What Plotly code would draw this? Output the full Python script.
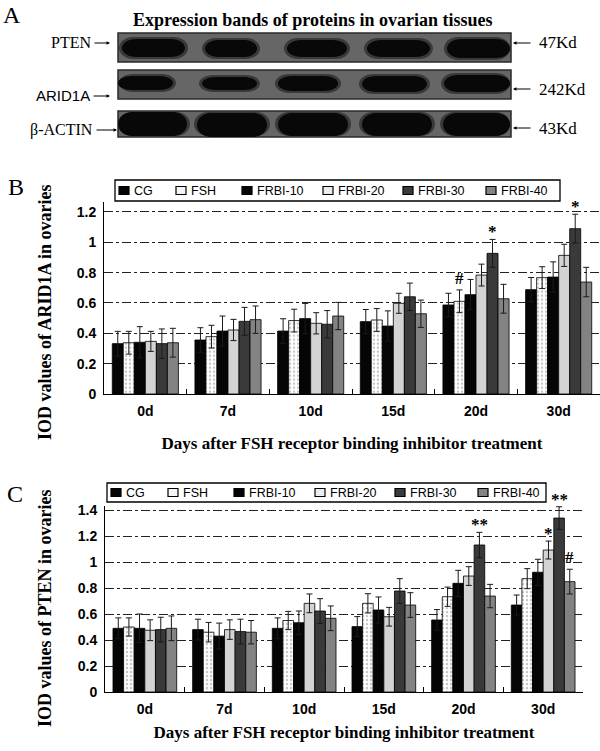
import plotly.graph_objects as go

W, H = 600, 751

# ---------------- data ----------------
days = ["0d", "7d", "10d", "15d", "20d", "30d"]
groups = ["CG", "FSH", "FRBI-10", "FRBI-20", "FRBI-30", "FRBI-40"]

# Panel B: IOD values of ARID1A
arid1a_cg = [0.332, 0.356, 0.415, 0.477, 0.587, 0.688]
arid1a_fsh = [0.338, 0.378, 0.484, 0.488, 0.611, 0.767]
arid1a_frbi10 = [0.341, 0.415, 0.497, 0.448, 0.655, 0.771]
arid1a_frbi20 = [0.347, 0.422, 0.466, 0.598, 0.784, 0.914]
arid1a_frbi30 = [0.332, 0.479, 0.460, 0.641, 0.927, 1.090]
arid1a_frbi40 = [0.338, 0.490, 0.514, 0.529, 0.628, 0.738]

arid1a_cg_err = [0.081, 0.081, 0.081, 0.080, 0.077, 0.080]
arid1a_fsh_err = [0.075, 0.075, 0.075, 0.075, 0.075, 0.072]
arid1a_frbi10_err = [0.103, 0.099, 0.100, 0.100, 0.100, 0.100]
arid1a_frbi20_err = [0.066, 0.070, 0.070, 0.066, 0.072, 0.073]
arid1a_frbi30_err = [0.097, 0.092, 0.090, 0.090, 0.092, 0.095]
arid1a_frbi40_err = [0.095, 0.090, 0.090, 0.090, 0.095, 0.097]

# Panel C: IOD values of PTEN
pten_cg = [0.490, 0.480, 0.490, 0.503, 0.554, 0.669]
pten_fsh = [0.500, 0.460, 0.550, 0.682, 0.733, 0.872]
pten_frbi10 = [0.490, 0.430, 0.533, 0.631, 0.836, 0.921]
pten_frbi20 = [0.475, 0.480, 0.682, 0.579, 0.892, 1.092]
pten_frbi30 = [0.480, 0.465, 0.623, 0.777, 1.131, 1.338]
pten_frbi40 = [0.490, 0.460, 0.567, 0.669, 0.738, 0.849]

pten_cg_err = [0.080, 0.080, 0.080, 0.077, 0.080, 0.077]
pten_fsh_err = [0.070, 0.075, 0.070, 0.074, 0.074, 0.077]
pten_frbi10_err = [0.110, 0.100, 0.090, 0.100, 0.100, 0.100]
pten_frbi20_err = [0.080, 0.075, 0.072, 0.072, 0.072, 0.069]
pten_frbi30_err = [0.095, 0.095, 0.095, 0.095, 0.097, 0.087]
pten_frbi40_err = [0.095, 0.090, 0.095, 0.095, 0.090, 0.095]

# significance marks: (day, group, mark)
arid1a_marks = [("20d", "FSH", "#"), ("20d", "FRBI-30", "*"), ("30d", "FRBI-30", "*")]
pten_marks = [("20d", "FRBI-30", "**"), ("30d", "FRBI-20", "*"),
              ("30d", "FRBI-30", "**"), ("30d", "FRBI-40", "#")]

# western blot panel: lane labels and band sizes
blot_proteins = ["PTEN", "ARID1A", "β-ACTIN"]
blot_sizes = ["47Kd", "242Kd", "43Kd"]

arid1a_vals = [arid1a_cg, arid1a_fsh, arid1a_frbi10, arid1a_frbi20, arid1a_frbi30, arid1a_frbi40]
arid1a_errs = [arid1a_cg_err, arid1a_fsh_err, arid1a_frbi10_err, arid1a_frbi20_err,
               arid1a_frbi30_err, arid1a_frbi40_err]
pten_vals = [pten_cg, pten_fsh, pten_frbi10, pten_frbi20, pten_frbi30, pten_frbi40]
pten_errs = [pten_cg_err, pten_fsh_err, pten_frbi10_err, pten_frbi20_err,
             pten_frbi30_err, pten_frbi40_err]

# ---------------- styles ----------------
SERIF = "Liberation Serif, Times New Roman, serif"
SANS = "Liberation Sans, Arial, sans-serif"

fills = {
    "CG": dict(color="#050505"),
    "FSH": dict(color="white", pattern=dict(shape=".", fgcolor="#8c8c8c", bgcolor="white",
                                            size=4, solidity=0.3)),
    "FRBI-10": dict(color="#050505"),
    "FRBI-20": dict(color="#d3d3d3"),
    "FRBI-30": dict(color="#3a3a3a"),
    "FRBI-40": dict(color="#838383"),
}
swatch = {"CG": "#050505", "FSH": "#f4f4f4", "FRBI-10": "#050505",
          "FRBI-20": "#ececec", "FRBI-30": "#3a3a3a", "FRBI-40": "#838383"}

BARGAP = 0.2
B_TOP, C_TOP = 1.268, 1.43     # y-axis range maxima
B_ZERO, C_ZERO = 394, 692      # pixel rows of y = 0
B_SCALE, C_SCALE = 151.7, 130  # pixels per unit


def px(x):
    return x / W


def py(y):
    return 1 - y / H


fig = go.Figure()


def add_panel(vals, errs, xa, ya):
    for g, v, e in zip(groups, vals, errs):
        m = dict(fills[g])
        m["line"] = dict(color="black", width=0.8)
        fig.add_trace(go.Bar(
            x=days, y=v, name=g, marker=m, xaxis=xa, yaxis=ya, showlegend=False,
            cliponaxis=False,
            error_y=dict(type="data", array=e, color="#1a1a1a", thickness=1, width=3),
        ))


add_panel(arid1a_vals, arid1a_errs, "x", "y")
add_panel(pten_vals, pten_errs, "x2", "y2")

annotations = []
shapes = []


def add_marks(marks, vals, errs, xref, yref):
    w = (1 - BARGAP) / len(groups)
    for day, g, txt in marks:
        i = days.index(day)
        k = groups.index(g)
        xpos = i - (1 - BARGAP) / 2 + w * (k + 0.5)
        ytop = vals[k][i] + errs[k][i]
        annotations.append(dict(
            x=xpos, y=ytop, xref=xref, yref=yref, text=txt, showarrow=False,
            xanchor="center", yanchor="bottom", yshift=-4 if "*" in txt else 0,
            font=dict(family=SERIF, size=17, color="black", weight="bold")))


add_marks(arid1a_marks, arid1a_vals, arid1a_errs, "x", "y")
add_marks(pten_marks, pten_vals, pten_errs, "x2", "y2")


def note(x, y, text, font, **kw):
    d = dict(x=px(x), y=py(y), xref="paper", yref="paper", text=text, showarrow=False,
             xanchor="center", yanchor="middle", font=font)
    d.update(kw)
    annotations.append(d)


# ---------------- legends (boxed, one row) ----------------
LEG_OFFS = [9, 66, 132, 213, 293, 376]


def add_legend(x0, x1, y0, y1):
    shapes.append(dict(type="rect", xref="paper", yref="paper", x0=px(x0), x1=px(x1),
                       y0=py(y1), y1=py(y0), fillcolor="white",
                       line=dict(color="black", width=1.3)))
    yc = (y0 + y1) / 2
    for g, off in zip(groups, LEG_OFFS):
        cx = x0 + off
        shapes.append(dict(type="rect", xref="paper", yref="paper",
                           x0=px(cx - 5), x1=px(cx + 5), y0=py(yc + 4), y1=py(yc - 4),
                           fillcolor=swatch[g], line=dict(color="black", width=1.2)))
        note(cx + 8, yc, g, dict(family=SANS, size=12.5, color="black"), xanchor="left")


add_legend(115, 560, 180, 201)
add_legend(107, 546, 483, 502)

# ---------------- panel A: western blot ----------------
strips = [(33, 62), (70, 99), (111, 137)]
bands = [
    [(122, 185, 39, 57), (205, 257, 40, 57), (287, 347, 40, 57), (367, 430, 40, 57), (447, 510, 39, 58)],
    [(118, 173, 76, 90), (202, 257, 77, 90), (278, 338, 76, 91), (362, 427, 76, 92), (444, 510, 75, 92)],
    [(118, 187, 112, 136), (197, 267, 113, 137), (278, 348, 113, 136), (362, 432, 113, 136), (443, 510, 113, 136)],
]
BX0, BX1 = 118, 511


def band_path(x0, x1, y0, y1):
    k = 0.5523
    ym = (y0 + y1) / 2
    ry = (y1 - y0) / 2
    rx = min(14, (x1 - x0) / 4)

    def P(x, y):
        return f"{px(x):.5f},{py(y):.5f}"
    d = f"M{P(x0 + rx, y0)} L{P(x1 - rx, y0)} "
    d += f"C{P(x1 - rx + k * rx, y0)} {P(x1, ym - k * ry)} {P(x1, ym)} "
    d += f"C{P(x1, ym + k * ry)} {P(x1 - rx + k * rx, y1)} {P(x1 - rx, y1)} "
    d += f"L{P(x0 + rx, y1)} "
    d += f"C{P(x0 + rx - k * rx, y1)} {P(x0, ym + k * ry)} {P(x0, ym)} "
    d += f"C{P(x0, ym - k * ry)} {P(x0 + rx - k * rx, y0)} {P(x0 + rx, y0)} Z"
    return d


for (sy0, sy1), row in zip(strips, bands):
    shapes.append(dict(type="rect", xref="paper", yref="paper",
                       x0=px(BX0), x1=px(BX1), y0=py(sy1), y1=py(sy0),
                       fillcolor="#666666", line=dict(color="#2a2a2a", width=1.5)))
    for (x0, x1, y0, y1) in row:
        shapes.append(dict(type="path", xref="paper", yref="paper",
                           path=band_path(max(BX0 + 1, x0 - 3), min(BX1 - 1, x1 + 3),
                                          max(sy0 + 1, y0 - 2), min(sy1 - 1, y1 + 2)),
                           fillcolor="#2e2e2e", opacity=0.8, line=dict(width=0)))
        shapes.append(dict(type="path", xref="paper", yref="paper",
                           path=band_path(x0, x1, y0, y1),
                           fillcolor="#080808", line=dict(width=0)))

note(12, 15, "A", dict(family=SERIF, size=24, color="black"))
note(313, 20, "Expression bands of proteins in ovarian tissues",
     dict(family=SERIF, size=18, color="black", weight="bold"))

left_lbl = [(93, 110, 43, SERIF, 16), (92, 110, 96, SANS, 15), (95, 117, 130, SERIF, 16)]
right_lbl = [(513, 532, 537, 43), (513, 532, 537, 89), (513, 532, 537, 128)]
for name, (tx, ax_, yy, fam, fs) in zip(blot_proteins, left_lbl):
    note(tx, yy, name, dict(family=fam, size=fs, color="black"), xanchor="right")
    annotations.append(dict(x=px(ax_), y=py(yy), xref="paper", yref="paper", text="",
                            ax=-(ax_ - tx), ay=0, axref="pixel", ayref="pixel",
                            showarrow=True, arrowhead=2, arrowsize=0.7, arrowwidth=1,
                            arrowcolor="black"))
for name, (hx, tx, lx, yy) in zip(blot_sizes, right_lbl):
    annotations.append(dict(x=px(hx), y=py(yy), xref="paper", yref="paper", text="",
                            ax=tx - hx, ay=0, axref="pixel", ayref="pixel",
                            showarrow=True, arrowhead=2, arrowsize=0.7, arrowwidth=1,
                            arrowcolor="black"))
    note(lx, yy, name, dict(family=SERIF, size=17, color="black"), xanchor="left")

# panel labels and y titles
note(16, 187, "B", dict(family=SERIF, size=24, color="black"))
note(15, 494, "C", dict(family=SERIF, size=24, color="black"))
note(45, 312, "IOD values of ARID1A in ovaries",
     dict(family=SERIF, size=18, color="black", weight="bold"), textangle=-90)
note(45, 608, "IOD values of PTEN in ovaries",
     dict(family=SERIF, size=18, color="black", weight="bold"), textangle=-90)

tickfont = dict(family=SANS, size=14, color="black", weight="bold")


def xaxis(domain, standoff):
    return dict(domain=domain, type="category", showline=True, linecolor="black", linewidth=1,
                ticks="inside", tickson="boundaries", ticklen=5, tickcolor="black",
                tickfont=tickfont, showgrid=False, automargin=False, ticklabelstandoff=4,
                title=dict(text="Days after FSH receptor binding inhibitor treatment",
                           font=dict(family=SERIF, size=17, color="black", weight="bold"),
                           standoff=standoff))


def yaxis(domain, rng, anchor):
    return dict(domain=domain, range=rng, anchor=anchor, showline=True, linecolor="black",
                linewidth=1, showgrid=True, gridcolor="#222222", griddash="dashdot",
                gridwidth=1, dtick=0.2, tickformat="~g", tickfont=tickfont, ticks="",
                zeroline=False, automargin=False, ticklabelstandoff=4)


fig.update_layout(
    width=W, height=H, margin=dict(l=0, r=0, t=0, b=0, autoexpand=False),
    paper_bgcolor="white", plot_bgcolor="white", showlegend=False,
    barmode="group", bargap=BARGAP, bargroupgap=0,
    xaxis=dict(xaxis([104 / W, 1.0], 19), anchor="y"),
    yaxis=yaxis([py(B_ZERO), py(B_ZERO - B_TOP * B_SCALE)], [0, B_TOP], "x"),
    xaxis2=dict(xaxis([105 / W, 583 / W], 10), anchor="y2"),
    yaxis2=yaxis([py(C_ZERO), py(C_ZERO - C_TOP * C_SCALE)], [0, C_TOP], "x2"),
    shapes=shapes,
    annotations=annotations,
)

fig.write_html("out.html", config={"displayModeBar": False},
               post_script="document.body.style.margin='0px';")
